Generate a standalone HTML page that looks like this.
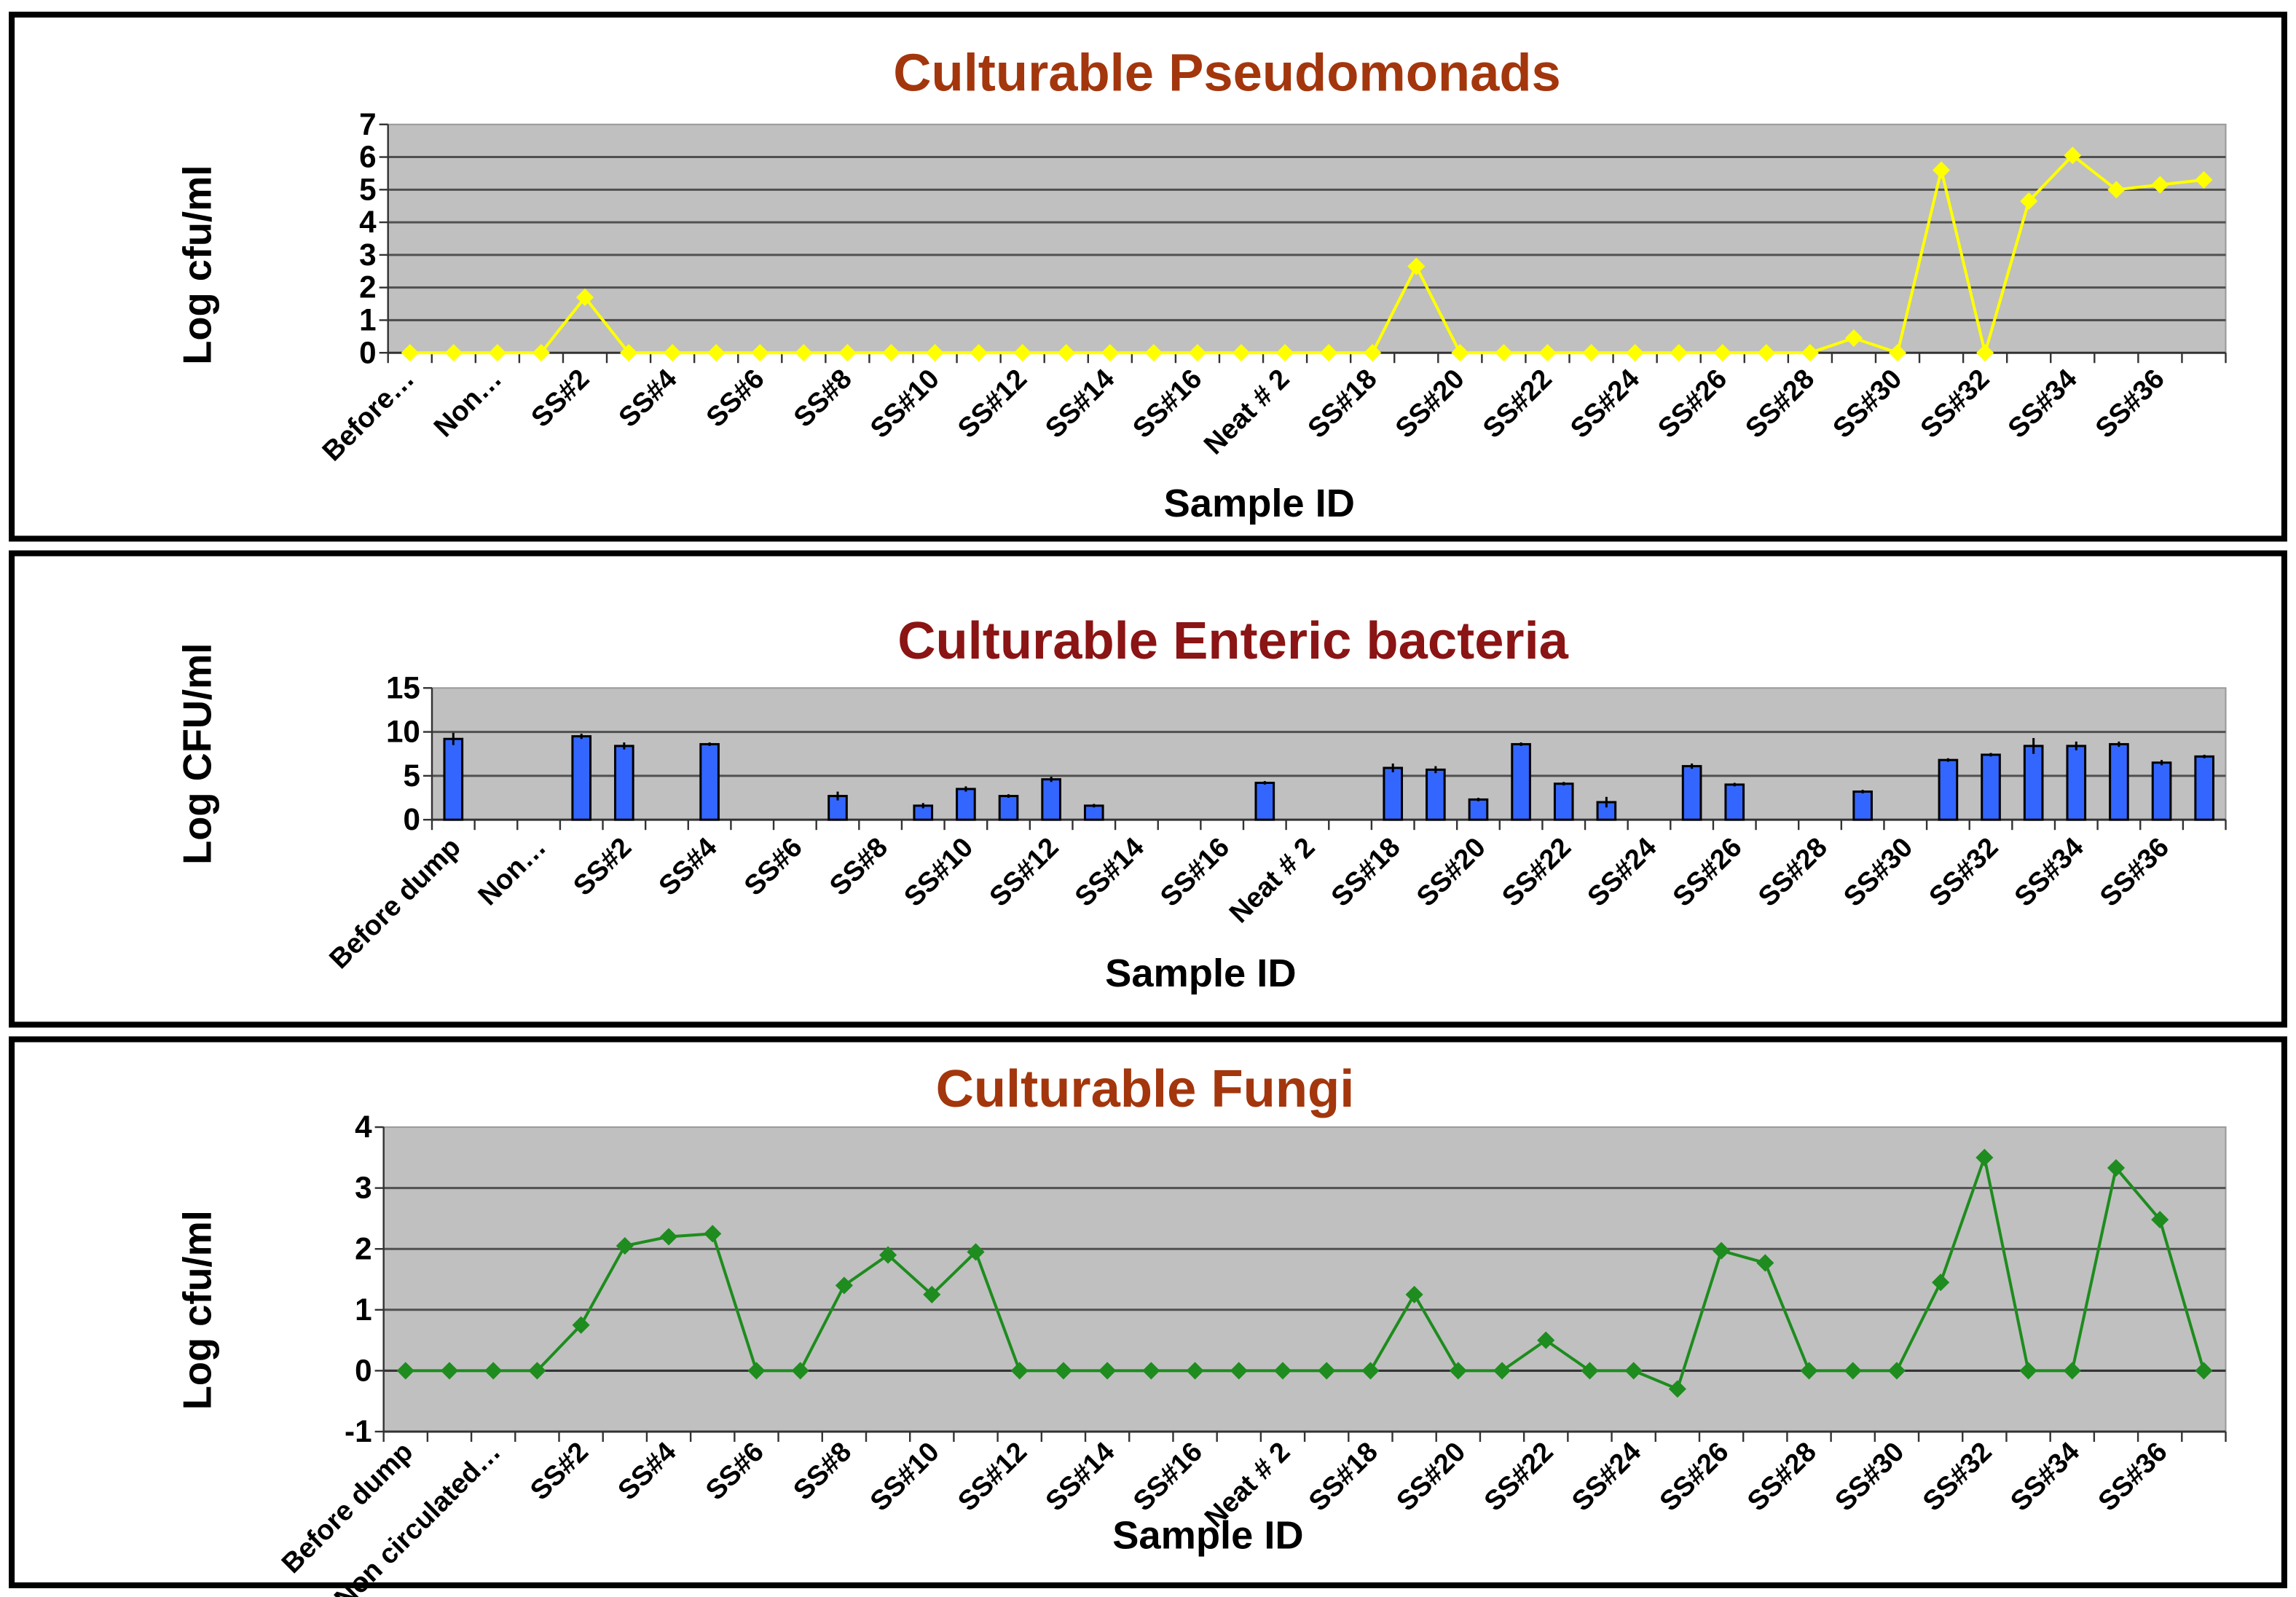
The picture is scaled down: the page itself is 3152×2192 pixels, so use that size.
<!DOCTYPE html>
<html><head><meta charset="utf-8"><style>
html,body{margin:0;padding:0;background:#fff;}
svg{display:block;font-family:"Liberation Sans",Arial,sans-serif;}
</style></head><body>
<svg id="fig" width="3152" height="2192" viewBox="0 0 1568 1091" preserveAspectRatio="none" xmlns="http://www.w3.org/2000/svg"></svg>
<script>
const categories = ["Before dump","After dump","Non circulated","SS#1","SS#2","SS#3","SS#4","SS#5","SS#6","SS#7","SS#8","SS#9","SS#10","SS#11","SS#12","SS#13","SS#14","SS#15","SS#16","Neat # 1","Neat # 2","SS#17","SS#18","SS#19","SS#20","SS#21","SS#22","SS#23","SS#24","SS#25","SS#26","SS#27","SS#28","SS#29","SS#30","SS#31","SS#32","SS#33","SS#34","SS#35","SS#36","SS#37"];
const labelsP1 = {0:"Before…",2:"Non…"};
const labelsP2 = {0:"Before dump",2:"Non…"};
const labelsP3 = {0:"Before dump",2:"Non circulated…"};
const pseudoValues = [0,0,0,0,1.7,0,0,0,0,0,0,0,0,0,0,0,0,0,0,0,0,0,0,2.65,0,0,0,0,0,0,0,0,0,0.45,0,5.6,0,4.65,6.05,5.0,5.15,5.3];
const entericValues = [9.2,null,null,9.5,8.4,null,8.6,null,null,2.7,null,1.6,3.5,2.7,4.6,1.6,null,null,null,4.2,null,null,5.9,5.7,2.3,8.6,4.1,2.0,null,6.1,4.0,null,null,3.2,null,6.8,7.4,8.4,8.4,8.6,6.5,7.2];
const entericErrors = [0.7,0,0,0.3,0.4,0,0.2,0,0,0.5,0,0.3,0.3,0.2,0.3,0.2,0,0,0,0.2,0,0,0.5,0.4,0.2,0.2,0.2,0.6,0,0.3,0.2,0,0,0.2,0,0.2,0.2,0.9,0.5,0.3,0.3,0.2];
const fungiValues = [0,0,0,0,0.75,2.05,2.2,2.25,0,0,1.4,1.9,1.25,1.95,0,0,0,0,0,0,0,0,0,1.25,0,0,0.5,0,0,-0.3,1.97,1.77,0,0,0,1.45,3.5,0,0,3.33,2.48,0];
const ticksP1 = [0,1,2,3,4,5,6,7];
const ticksP2 = [0,5,10,15];
const ticksP3 = [-1,0,1,2,3,4];

const NS="http://www.w3.org/2000/svg";
const svg=document.getElementById('fig');
function mk(tag,attrs,parent,text){const e=document.createElementNS(NS,tag);for(const k in attrs)e.setAttribute(k,attrs[k]);if(text!==undefined)e.textContent=text;(parent||svg).appendChild(e);return e;}

function panel(cfg){
  const g=mk('g',{});
  
  
  const fr=mk('rect',{x:cfg.box[0],y:cfg.box[1],width:cfg.box[2],height:cfg.box[3],fill:'#fff',stroke:'#000','stroke-width':4},g);
  
  
  const t=mk('text',{x:cfg.titleX,y:cfg.titleY,'text-anchor':'middle','font-size':cfg.titleSize,'font-weight':'bold',fill:cfg.titleColor},g,cfg.title);
  
  
  const L=cfg.plot[0],T=cfg.plot[1],R=cfg.plot[2],B=cfg.plot[3];
  const ymin=cfg.ticks[0],ymax=cfg.ticks[cfg.ticks.length-1];
  const ys=v=>B-(v-ymin)/(ymax-ymin)*(B-T);
  const n=categories.length,step=(R-L)/n;
  const xs=i=>L+step*(i+0.5);
  const bg=mk('rect',{x:L,y:T,width:R-L,height:B-T,fill:'#c0c0c0',stroke:'#999','stroke-width':1},g);
  
  
  cfg.ticks.forEach(v=>{
    const y=ys(v);
    if(v!==ymin&&v!==ymax){const gl=mk('line',{x1:L,x2:R,y1:y,y2:y,stroke:'#505050','stroke-width':1.5},g);
      
      }
    mk('line',{x1:L-6,x2:L,y1:y,y2:y,stroke:'#333','stroke-width':1.2},g);
    const tl=mk('text',{x:L-8,y:y+7,'text-anchor':'end','font-size':21,'font-weight':'bold',fill:'#000'},g,String(v));
    
    
  });
  mk('line',{x1:L,x2:L,y1:T,y2:B,stroke:'#333','stroke-width':1.2},g);
  const axY=ys(cfg.axisAt);
  mk('line',{x1:L,x2:R,y1:axY,y2:axY,stroke:'#333','stroke-width':1.5},g);
  const xlabY=cfg.xlabY;
  for(let i=0;i<=n;i++){mk('line',{x1:L+step*i,x2:L+step*i,y1:axY,y2:axY+7,stroke:'#333','stroke-width':1.2},g);}
  for(let i=0;i<n;i+=2){
    const txt=cfg.labels[i]!==undefined?cfg.labels[i]:categories[i];
    const x=xs(i)+cfg.labOff;
    const lab=mk('text',{x:x,y:xlabY,'text-anchor':'end','font-size':19,'font-weight':'bold',fill:'#000',transform:`rotate(-45 ${x} ${xlabY})`},g,txt);
    
    
  }
  const yt=mk('text',{x:cfg.yTitle[0],y:cfg.yTitle[1],'text-anchor':'middle','font-size':27,'font-weight':'bold',fill:'#000',transform:`rotate(-90 ${cfg.yTitle[0]} ${cfg.yTitle[1]})`},g,cfg.yTitleText);
  
  
  const xt=mk('text',{x:cfg.xTitle[0],y:cfg.xTitle[1],'text-anchor':'middle','font-size':27,'font-weight':'bold',fill:'#000'},g,'Sample ID');
  
  
  return {g,xs,ys,step};
}

// Panel 1
const p1=panel({name:'pseudomonads-chart',box:[8,10,1552,358],title:'Culturable Pseudomonads',titleX:838,titleY:62,titleSize:36,titleColor:'#a3360c',
  plot:[265,85,1520,241],ticks:ticksP1,axisAt:0,labels:labelsP1,labOff:4,xlabY:260,yTitle:[144,181],yTitleText:'Log cfu/ml',xTitle:[860,353]});
{
  const pts=pseudoValues.map((v,i)=>p1.xs(i)+','+p1.ys(v)).join(' ');
  const ln=mk('polyline',{points:pts,fill:'none',stroke:'#ffff00','stroke-width':2},p1.g);
  
  
  pseudoValues.forEach((v,i)=>{const x=p1.xs(i),y=p1.ys(v);
    const m=mk('polygon',{points:`${x},${y-6} ${x+6},${y} ${x},${y+6} ${x-6},${y}`,fill:'#ffff00'},p1.g);
    
    });
}

// Panel 2
const p2=panel({name:'enteric-chart',box:[8,378,1552,322],title:'Culturable Enteric bacteria',titleX:842,titleY:450,titleSize:36,titleColor:'#8b1414',
  plot:[295,470,1520,560],ticks:ticksP2,axisAt:0,labels:labelsP2,labOff:6,xlabY:580,yTitle:[144,515],yTitleText:'Log CFU/ml',xTitle:[820,674]});
entericValues.forEach((v,i)=>{
  if(v===null)return;
  const x=p2.xs(i),w=p2.step*0.42,y=p2.ys(v),y0=p2.ys(0);
  const b=mk('rect',{x:x-w/2,y:y,width:w,height:y0-y,fill:'#3366ff',stroke:'#000','stroke-width':1.5},p2.g);
  
  
  const e=entericErrors[i];
  if(e>0){const el=mk('line',{x1:x,x2:x,y1:p2.ys(v+e),y2:p2.ys(v-e),stroke:'#000','stroke-width':1.5},p2.g);
    
    }
});

// Panel 3
const p3=panel({name:'fungi-chart',box:[8,710,1552,373],title:'Culturable Fungi',titleX:782,titleY:756,titleSize:36,titleColor:'#a3360c',
  plot:[262,770,1520,978],ticks:ticksP3,axisAt:-1,labels:labelsP3,labOff:6,xlabY:993,yTitle:[144,895],yTitleText:'Log cfu/ml',xTitle:[825,1058]});
{
  const z=p3.ys(0);
  const zl=mk('line',{x1:262,x2:1520,y1:z,y2:z,stroke:'#333','stroke-width':1.5},p3.g);
  
  
  const pts=fungiValues.map((v,i)=>p3.xs(i)+','+p3.ys(v)).join(' ');
  const ln=mk('polyline',{points:pts,fill:'none',stroke:'#1e8c1e','stroke-width':2},p3.g);
  
  
  fungiValues.forEach((v,i)=>{const x=p3.xs(i),y=p3.ys(v);
    const m=mk('polygon',{points:`${x},${y-6} ${x+6},${y} ${x},${y+6} ${x-6},${y}`,fill:'#1e8c1e'},p3.g);
    
    });
}
</script>
</body></html>
